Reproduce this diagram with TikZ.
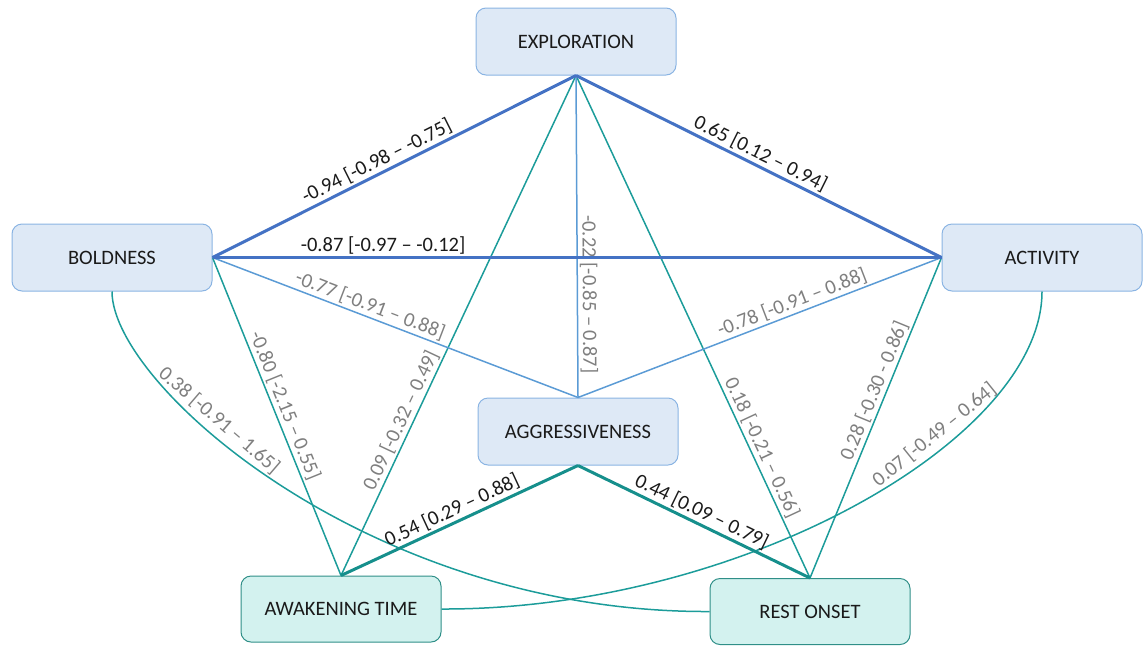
\documentclass[tikz,border=0pt]{standalone}
\usepackage{fontspec}
\setmainfont{Carlito}
\definecolor{boxblue}{HTML}{DEE9F6}
\definecolor{boxblueline}{HTML}{8AB4E3}
\definecolor{boxteal}{HTML}{D3F2EF}
\definecolor{boxtealline}{HTML}{2F8F88}
\definecolor{strongbluec}{HTML}{4472C4}
\definecolor{weakbluec}{HTML}{5B9BD5}
\definecolor{weaktealc}{HTML}{1C9C9A}
\definecolor{strongtealc}{HTML}{168F8C}
\definecolor{labgray}{HTML}{7F7F7F}
\definecolor{txtdark}{HTML}{1A1A1A}
\newcommand{\labfont}{\fontsize{20.5}{24}\selectfont}
\begin{document}
\begin{tikzpicture}[x=1pt,y=-1pt,
  box/.style={draw, rounded corners=10pt, minimum width=200pt, minimum height=67pt,
    font=\labfont, text=txtdark, line width=1pt, inner sep=0pt},
  bluebox/.style={box, fill=boxblue, draw=boxblueline},
  tealbox/.style={box, fill=boxteal, draw=boxtealline, minimum height=66pt},
  strongblue/.style={draw=strongbluec, line width=3pt},
  weakblue/.style={draw=weakbluec, line width=1.5pt},
  weakteal/.style={draw=weaktealc, line width=1.5pt},
  strongteal/.style={draw=strongtealc, line width=3pt},
  lab/.style={sloped, above, font=\labfont, inner sep=2pt},
  glab/.style={lab, text=labgray},
  blab/.style={lab, text=txtdark},
  clab/.style={glab, above=4pt}]
\useasboundingbox (0,0) rectangle (1147,646);

% nodes
\node[bluebox] (expl) at (576,41.5) {EXPLORATION};
\node[bluebox] (bold) at (112,257.5) {BOLDNESS};
\node[bluebox] (act) at (1042,257.5) {ACTIVITY};
\node[bluebox] (agg) at (578,431.5) {AGGRESSIVENESS};
\node[tealbox] (awak) at (341,609) {AWAKENING TIME};
\node[tealbox] (rest) at (810,611.5) {REST ONSET};

% curved connectors
\draw[weakteal] (bold.south) .. controls (112,385) and (370,613) .. (rest.west)
  node[clab, pos=0.37] {0.38 [-0.91 – 1.65]};
\draw[weakteal] (act.south) .. controls (1042,440) and (740,610) .. (awak.east)
  node[clab, pos=0.35] {0.07 [-0.49 – 0.64]};

% thin teal
\draw[weakteal] (awak.north) -- node[glab, pos=0.30] {0.09 [-0.32 – 0.49]} (expl.south);
\draw[weakteal] (expl.south) -- node[glab, pos=0.75] {0.18 [-0.21 – 0.56]} (rest.north);
\draw[weakteal] (bold.east) -- node[glab, pos=0.48] {-0.80 [-2.15 – 0.55]} (awak.north);
\draw[weakteal] (rest.north) -- node[glab, pos=0.57] {0.28 [-0.30 - 0.86]} (act.west);

% thin blue
\draw[weakblue] (expl.south) -- node[glab, pos=0.68] {-0.22 [-0.85 – 0.87]} (agg.north);
\draw[weakblue] (bold.east) -- node[glab, pos=0.42] {-0.77 [-0.91 – 0.88]} (agg.north);
\draw[weakblue] (agg.north) -- node[glab, pos=0.60] {-0.78 [-0.91 – 0.88]} (act.west);

% strong blue
\draw[strongblue] (bold.east) -- node[blab, pos=0.467] {-0.94 [-0.98 – -0.75]} (expl.south);
\draw[strongblue] (expl.south) -- node[blab, pos=0.49] {0.65 [0.12 – 0.94]} (act.west);
\draw[strongblue] (bold.east) -- node[blab, pos=0.234] {-0.87 [-0.97 – -0.12]} (act.west);

% strong teal
\draw[strongteal] (awak.north) -- node[blab, pos=0.49] {0.54 [0.29 – 0.88]} (agg.south);
\draw[strongteal] (agg.south) -- node[blab, pos=0.51] {0.44 [0.09 – 0.79]} (rest.north);
\end{tikzpicture}
\end{document}
